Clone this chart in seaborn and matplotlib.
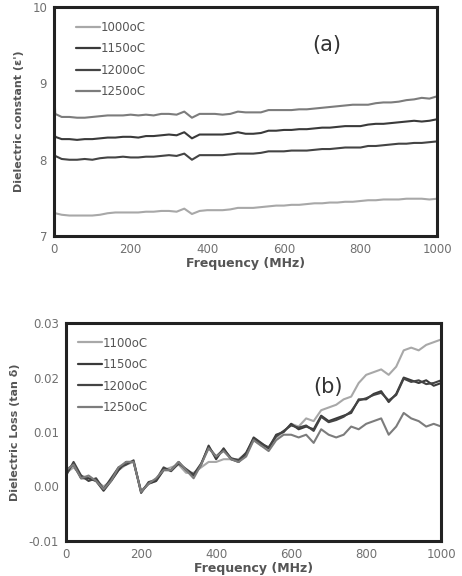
import matplotlib
import matplotlib.pyplot as plt
import numpy as np
import pandas as pd
import seaborn as sns

matplotlib.use("Agg")

# (a) dielectric constant
freq_a = [0, 3] + list(range(20, 1001, 20))
eps_1000 = [7.32, 7.30,
            7.28, 7.27, 7.27, 7.27, 7.27, 7.28, 7.30, 7.31, 7.31, 7.31,
            7.31, 7.32, 7.32, 7.33, 7.33, 7.32, 7.36, 7.29, 7.33, 7.34,
            7.34, 7.34, 7.35, 7.37, 7.37, 7.37, 7.38, 7.39, 7.40, 7.40,
            7.41, 7.41, 7.42, 7.43, 7.43, 7.44, 7.44, 7.45, 7.45, 7.46,
            7.47, 7.47, 7.48, 7.48, 7.48, 7.49, 7.49, 7.49, 7.48, 7.49]
eps_1150 = [8.42, 8.30,
            8.27, 8.27, 8.26, 8.27, 8.27, 8.28, 8.29, 8.29, 8.30, 8.30,
            8.29, 8.31, 8.31, 8.32, 8.33, 8.32, 8.36, 8.28, 8.33, 8.33,
            8.33, 8.33, 8.34, 8.36, 8.34, 8.34, 8.35, 8.38, 8.38, 8.39,
            8.39, 8.40, 8.40, 8.41, 8.42, 8.42, 8.43, 8.44, 8.44, 8.44,
            8.46, 8.47, 8.47, 8.48, 8.49, 8.50, 8.51, 8.50, 8.51, 8.53]
eps_1200 = [8.10, 8.05,
            8.01, 8.00, 8.00, 8.01, 8.00, 8.02, 8.03, 8.03, 8.04, 8.03,
            8.03, 8.04, 8.04, 8.05, 8.06, 8.05, 8.08, 8.00, 8.06, 8.06,
            8.06, 8.06, 8.07, 8.08, 8.08, 8.08, 8.09, 8.11, 8.11, 8.11,
            8.12, 8.12, 8.12, 8.13, 8.14, 8.14, 8.15, 8.16, 8.16, 8.16,
            8.18, 8.18, 8.19, 8.20, 8.21, 8.21, 8.22, 8.22, 8.23, 8.24]
eps_1250 = [9.00, 8.60,
            8.56, 8.56, 8.55, 8.55, 8.56, 8.57, 8.58, 8.58, 8.58, 8.59,
            8.58, 8.59, 8.58, 8.60, 8.60, 8.59, 8.63, 8.55, 8.60, 8.60,
            8.60, 8.59, 8.60, 8.63, 8.62, 8.62, 8.62, 8.65, 8.65, 8.65,
            8.65, 8.66, 8.66, 8.67, 8.68, 8.69, 8.70, 8.71, 8.72, 8.72,
            8.72, 8.74, 8.75, 8.75, 8.76, 8.78, 8.79, 8.81, 8.80, 8.83]

# (b) dielectric loss
freq_b = list(range(0, 1001, 20))
tan_1100 = [0.0025, 0.0035, 0.0020, 0.0015, 0.0010, 0.0000, 0.0010, 0.0030, 0.0040, 0.0045,
            -0.0008, 0.0005, 0.0010, 0.0030, 0.0035, 0.0040, 0.0025, 0.0025, 0.0035, 0.0045,
            0.0045, 0.0050, 0.0050, 0.0050, 0.0060, 0.0085, 0.0075, 0.0070, 0.0090, 0.0100,
            0.0115, 0.0110, 0.0125, 0.0120, 0.0140, 0.0145, 0.0150, 0.0160, 0.0165, 0.0190,
            0.0205, 0.0210, 0.0215, 0.0205, 0.0220, 0.0250, 0.0255, 0.0250, 0.0260, 0.0265, 0.0270]
tan_1150 = [0.0030, 0.0040, 0.0015, 0.0015, 0.0010, -0.0008, 0.0010, 0.0030, 0.0045, 0.0045,
            -0.0010, 0.0005, 0.0010, 0.0030, 0.0030, 0.0045, 0.0030, 0.0020, 0.0040, 0.0075,
            0.0050, 0.0070, 0.0050, 0.0045, 0.0060, 0.0090, 0.0080, 0.0070, 0.0095, 0.0100,
            0.0115, 0.0105, 0.0110, 0.0105, 0.0130, 0.0120, 0.0125, 0.0130, 0.0135, 0.0160,
            0.0160, 0.0170, 0.0175, 0.0155, 0.0170, 0.0200, 0.0195, 0.0190, 0.0195, 0.0185, 0.0190]
tan_1200 = [0.0020, 0.0045, 0.0020, 0.0010, 0.0015, -0.0005, 0.0015, 0.0035, 0.0040, 0.0048,
            -0.0012, 0.0008, 0.0012, 0.0035, 0.0028, 0.0042, 0.0032, 0.0022, 0.0042, 0.0072,
            0.0055, 0.0068, 0.0052, 0.0048, 0.0062, 0.0088, 0.0078, 0.0072, 0.0092, 0.0102,
            0.0112, 0.0108, 0.0112, 0.0102, 0.0128, 0.0118, 0.0122, 0.0128, 0.0138, 0.0158,
            0.0162, 0.0168, 0.0172, 0.0158, 0.0168, 0.0198, 0.0192, 0.0195, 0.0188, 0.0190, 0.0195]
tan_1250 = [0.0030, 0.0040, 0.0015, 0.0020, 0.0010, -0.0005, 0.0010, 0.0035, 0.0045, 0.0045,
            -0.0010, 0.0005, 0.0015, 0.0030, 0.0030, 0.0045, 0.0030, 0.0015, 0.0040, 0.0070,
            0.0055, 0.0065, 0.0050, 0.0045, 0.0055, 0.0085, 0.0075, 0.0065, 0.0085, 0.0095,
            0.0095, 0.0090, 0.0095, 0.0080, 0.0105, 0.0095, 0.0090, 0.0095, 0.0110, 0.0105,
            0.0115, 0.0120, 0.0125, 0.0095, 0.0110, 0.0135, 0.0125, 0.0120, 0.0110, 0.0115, 0.0110]

labels_a = ["1000oC", "1150oC", "1200oC", "1250oC"]
labels_b = ["1100oC", "1150oC", "1200oC", "1250oC"]
colors = ["#a8a8a8", "#3a3a3a", "#444444", "#7c7c7c"]


def long_df(freq, series, labels):
    return pd.concat(
        [pd.DataFrame({"freq": freq, "val": s, "temp": lab}) for s, lab in zip(series, labels)],
        ignore_index=True,
    )


def style_axes(ax, xlabel, ylabel, leg_anchor):
    for sp in ax.spines.values():
        sp.set_visible(True)
        sp.set_color("#222222")
        sp.set_linewidth(2.2)
    ax.tick_params(axis="both", colors="#555555", labelsize=8.5, length=3, width=0.8,
                   direction="out", labelcolor="#707070", pad=2)
    ax.set_xlabel(xlabel, fontsize=9, fontweight="bold", color="#555555", labelpad=1)
    ax.set_ylabel(ylabel, fontsize=8, fontweight="bold", color="#555555", labelpad=6)
    ax.set_xlim(0, 1000)
    ax.set_xticks([0, 200, 400, 600, 800, 1000])
    leg = ax.legend(loc="upper left", bbox_to_anchor=leg_anchor, frameon=False,
                    handlelength=2.0, handletextpad=0.1, labelspacing=0.72,
                    fontsize=8.5, borderaxespad=0)
    for t in leg.get_texts():
        t.set_color("#555555")
    for ln in leg.get_lines():
        ln.set_linewidth(1.6)


sns.set_theme(style="white")
plt.rcParams["font.family"] = ["DejaVu Sans"]
fig = plt.figure(figsize=(4.62, 5.76), dpi=100)
ax1 = fig.add_axes([0.117, 0.590, 0.829, 0.398])
ax2 = fig.add_axes([0.143, 0.061, 0.812, 0.378])

df_a = long_df(freq_a, [eps_1000, eps_1150, eps_1200, eps_1250], labels_a)
sns.lineplot(data=df_a, x="freq", y="val", hue="temp", hue_order=labels_a,
             palette=dict(zip(labels_a, colors)), linewidth=1.5, ax=ax1)
ax1.set_ylim(7, 10)
ax1.set_yticks([7, 8, 9, 10])
style_axes(ax1, "Frequency (MHz)", "Dielectric constant (\u03b5')", (0.045, 0.96))
ax1.text(0.675, 0.835, "(a)", transform=ax1.transAxes, fontsize=15, color="#333333",
         va="center")

df_b = long_df(freq_b, [tan_1100, tan_1150, tan_1200, tan_1250], labels_b)
sns.lineplot(data=df_b, x="freq", y="val", hue="temp", hue_order=labels_b,
             palette=dict(zip(labels_b, colors)), linewidth=1.5, ax=ax2)
ax2.set_ylim(-0.01, 0.03)
ax2.set_yticks([-0.01, 0.0, 0.01, 0.02, 0.03])
ax2.set_yticklabels(["-0.01", "0.00", "0.01", "0.02", "0.03"])
style_axes(ax2, "Frequency (MHz)", "Dielectric Loss (tan \u03b4)", (0.02, 0.96))
ax2.text(0.66, 0.706, "(b)", transform=ax2.transAxes, fontsize=15, color="#333333",
         va="center")

fig.savefig("out.png", dpi=100)
